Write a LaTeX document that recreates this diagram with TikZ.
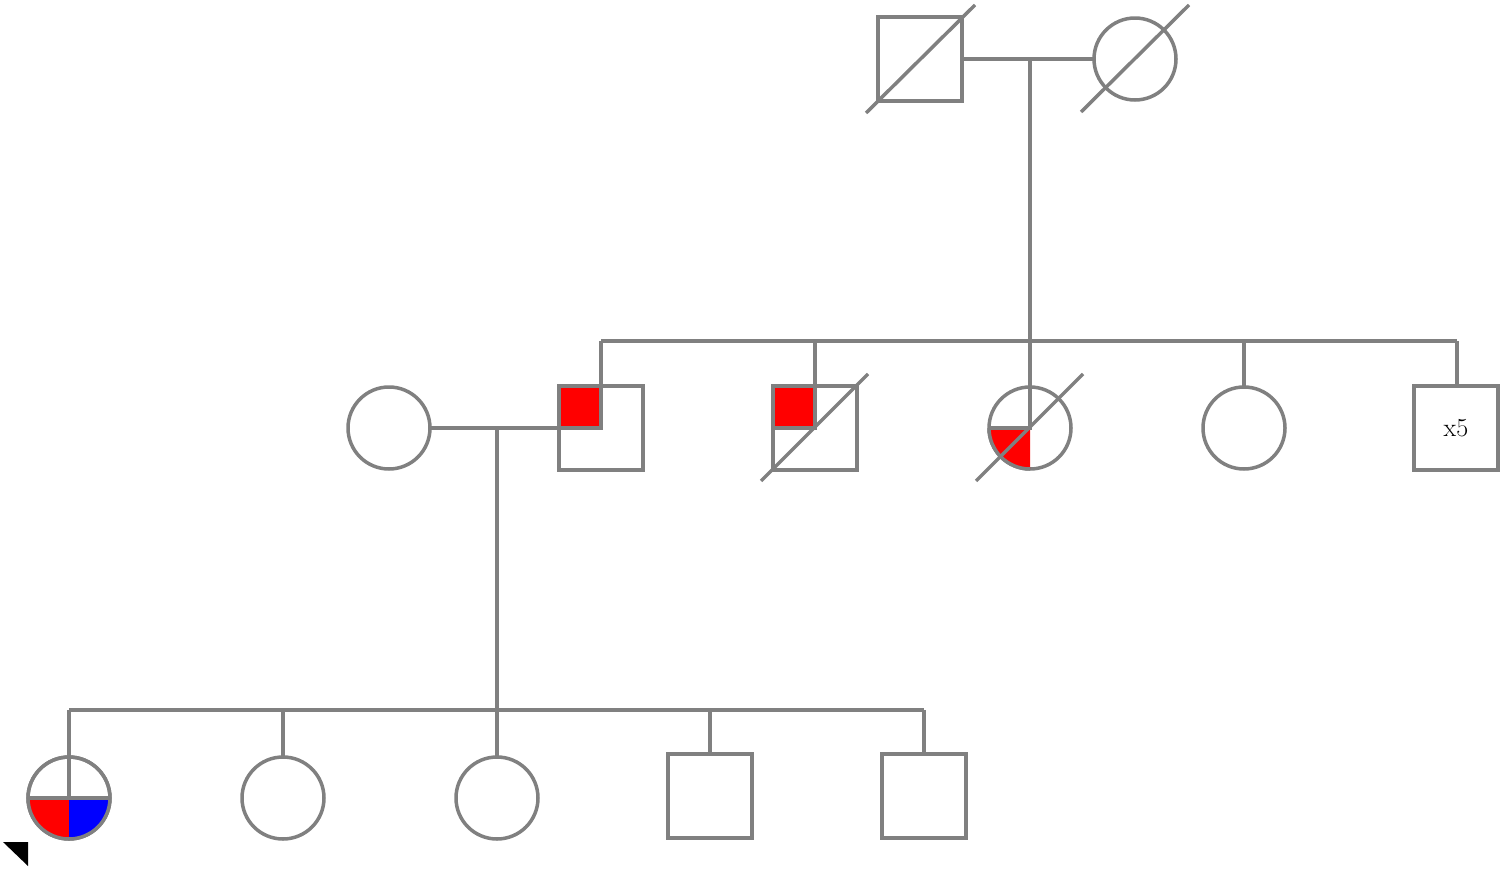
\documentclass[tikz,border=0pt]{standalone}
\begin{document}
\begin{tikzpicture}[x=1pt,y=-1pt,line width=3.5pt,
  ln/.style={draw=gray},
  sq/.style={draw=gray,minimum size=84pt,inner sep=0pt,outer sep=0pt,fill=white},
  ci/.style={draw=gray,circle,minimum size=82pt,inner sep=0pt,outer sep=0pt,fill=white}]
\useasboundingbox (0,0) rectangle (1502,868);
% lines
\draw[ln] (962,59) -- (1093,59);
\coordinate (m1) at (1030,59);
\coordinate (s1) at (1030,341);
\draw[ln] (m1) -- (s1);
\draw[ln] (601,341) -- (1457,341);
\draw[ln] (601,341) -- (601,428);
\draw[ln] (815,341) -- (815,386);
\draw[ln] (1030,341) -- (1030,387);
\draw[ln] (1244,341) -- (1244,387);
\draw[ln] (1457,341) -- (1457,386);
\draw[ln] (430,428) -- (559,428);
\coordinate (m2) at (497,428);
\coordinate (s2) at (497,710);
\draw[ln] (m2) -- (s2);
\draw[ln] (69,710) -- (924,710);
\foreach \x in {69,283,497} \draw[ln] (\x,710) -- (\x,757);
\foreach \x in {710,924} \draw[ln] (\x,710) -- (\x,754);
% gen1
\node[sq] (g1a) at (920,59) {};
\node[ci] (g1b) at (1135,59) {};
\draw[ln] (866,113) -- (975,5);
\draw[ln] (1081,112) -- (1189,5);
% gen2
\node[ci] (g2a) at (389,428) {};
\node[sq] (g2b) at (601,428) {};
\fill[red] (561,388) rectangle (601,428);
\draw[ln] (559,428) -- (601,428) -- (601,386);
\node[sq] (g2c) at (815,428) {};
\fill[red] (775,388) rectangle (815,428);
\draw[ln] (773,428) -- (815,428) -- (815,386);
\node[ci] (g2d) at (1030,428) {};
\fill[red] (1030,428) -- (989,428) arc[start angle=180,end angle=90,radius=41] -- cycle;
\draw[ln] (989,428) -- (1030,428) -- (1030,387);
\draw[ln] (989,428) arc[start angle=180,end angle=90,radius=41];
\draw[ln] (761,481) -- (868,374);
\draw[ln] (976,481) -- (1083,374);
\node[ci] (g2e) at (1244,428) {};
\node[sq,font=\fontsize{26}{30}\selectfont] (g2f) at (1456,428) {x5};
% gen3
\node[ci] (p) at (69,798) {};
\fill[red] (69,798) -- (28,798) arc[start angle=180,end angle=90,radius=41] -- cycle;
\fill[blue] (69,798) -- (110,798) arc[start angle=0,end angle=90,radius=41] -- cycle;
\draw[ln] (p.center) circle[radius=41];
\draw[ln] (28,798) -- (110,798);
\draw[ln] (69,798) -- (69,757);
\node[ci] (c2) at (283,798) {};
\node[ci] (c3) at (497,798) {};
\node[sq] (c4) at (710,796) {};
\node[sq] (c5) at (924,796) {};
\fill[black] (3,842) -- (28,842) -- (28,866) -- cycle;
\end{tikzpicture}
\end{document}
